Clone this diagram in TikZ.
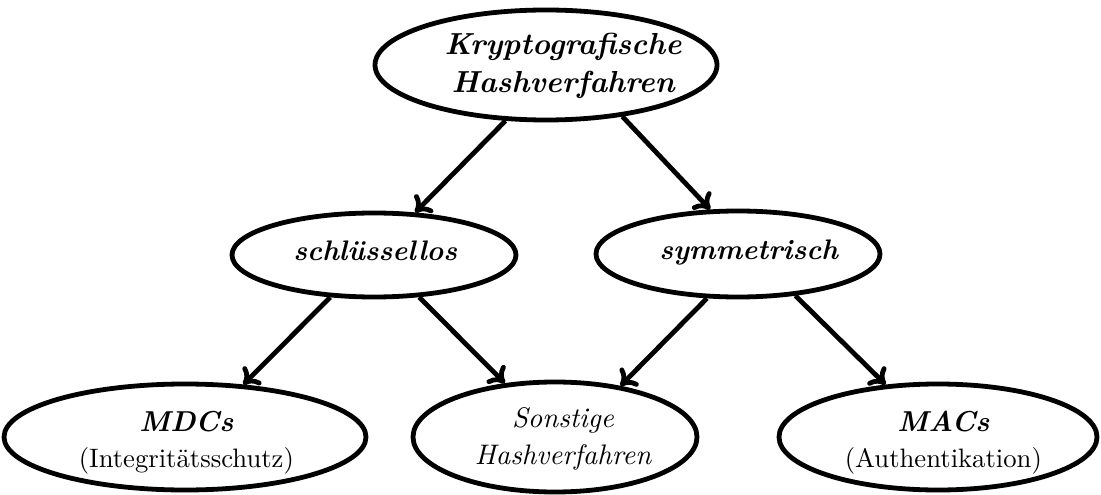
\documentclass[tikz,border=0pt]{standalone}
\usetikzlibrary{shapes.geometric,arrows.meta}
\newcommand\ctext[3]{\kern#1\makebox[0pt]{\smash{\raisebox{#2}{\begin{tabular}{@{}c@{}}#3\end{tabular}}}}\kern-#1}
\newcommand\lowbf{\fontsize{10.8}{13.5}\selectfont\bfseries\itshape}
\begin{document}
\begin{tikzpicture}[x=0.375pt,y=-0.375pt,
  el/.style={ellipse,draw,line width=1.8pt,inner sep=0pt},
  arr/.style={line width=1.8pt,-{To[length=5.5pt,width=9.5pt]}},
  topf/.style={font=\fontsize{11.4}{14.25}\selectfont\bfseries\itshape},
  midf/.style={font=\fontsize{10.6}{13}\selectfont\bfseries\itshape},
  lowf/.style={font=\fontsize{10}{13.5}\selectfont},
  itf/.style={font=\fontsize{10.6}{13.8}\selectfont\itshape}]
\useasboundingbox (0,0) rectangle (1101,495);
\node[el,topf,minimum width=342*0.375pt,minimum height=110*0.375pt] (top) at (546,65) {\ctext{6.4pt}{-3pt}{Kryptografische\\Hashverfahren}};
\node[el,midf,minimum width=284*0.375pt,minimum height=84*0.375pt] (sl) at (374,255) {\ctext{0.5pt}{-2.2pt}{schlüssellos}};
\node[el,midf,minimum width=284*0.375pt,minimum height=86*0.375pt] (sy) at (738,254) {\ctext{4pt}{-2.2pt}{symmetrisch}};
\node[el,lowf,minimum width=362*0.375pt,minimum height=106*0.375pt] (mdc) at (185,437) {\ctext{0.5pt}{-4.6pt}{{\lowbf MDCs}\\(Integritätsschutz)}};
\node[el,itf,minimum width=284*0.375pt,minimum height=110*0.375pt] (son) at (555,437) {\ctext{3pt}{-3.3pt}{Sonstige\\Hashverfahren}};
\node[el,lowf,minimum width=318*0.375pt,minimum height=106*0.375pt] (mac) at (938,437) {\ctext{2pt}{-4.6pt}{{\lowbf MACs}\\(Authentikation)}};
\draw[arr] (top.234) -- (sl.46);
\draw[arr] (top.326) -- (sy.122);
\draw[arr] (sl.224) -- (mdc.42);
\draw[arr] (sl.317) -- (son.133);
\draw[arr] (sy.235) -- (son.38);
\draw[arr] (sy.324) -- (mac.135);
\end{tikzpicture}
\end{document}
